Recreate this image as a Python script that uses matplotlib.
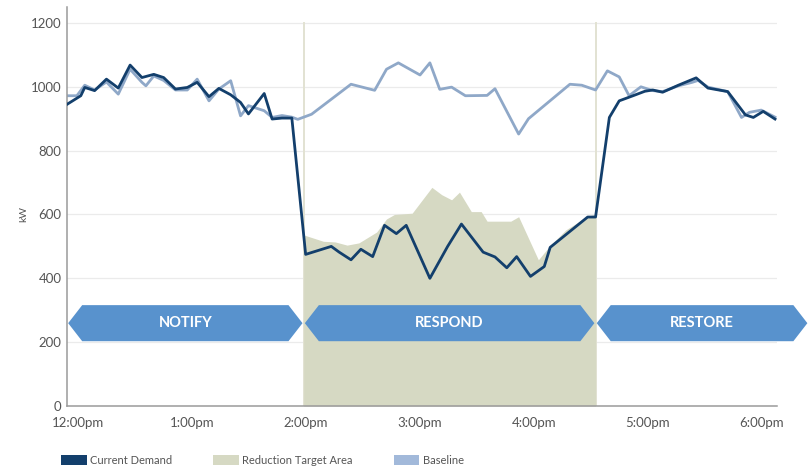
import numpy as np
import matplotlib
matplotlib.use("Agg")
import matplotlib.pyplot as plt
from matplotlib.patches import Polygon, Patch

plt.rcParams['font.family'] = ['Lato', 'DejaVu Sans']

# demand response event, minutes after 12:00pm vs kW
demand_t = [0, 7, 9, 14, 20, 26, 32, 38, 44, 49, 55, 61, 66, 72, 77, 83, 88, 92, 100, 104,
            109, 114, 121, 134, 138, 144, 149, 155, 161, 167, 172, 184, 193, 200, 211, 217,
            223, 228, 235, 242, 245, 264, 268, 275, 280, 287, 293, 297, 302, 310, 319, 325,
            335, 344, 348, 353, 359]
demand_kw = [945, 972, 998, 988, 1024, 996, 1068, 1029, 1039, 1029, 993, 998, 1014, 969, 995,
             975, 951, 915, 979, 899, 902, 902, 475, 500, 482, 458, 491, 468, 566, 540, 566,
             400, 500, 570, 482, 467, 433, 468, 406, 437, 497, 592, 592, 904, 956, 972, 986,
             990, 983, 1005, 1028, 996, 985, 912, 904, 923, 899]

base_t = [0, 5, 9, 14, 20, 26, 32, 38, 40, 44, 49, 55, 61, 66, 72, 77, 83, 88, 92, 100,
          104, 109, 114, 117, 124, 144, 156, 162, 168, 179, 184, 189, 195, 202, 213, 217,
          229, 234, 255, 261, 268, 274, 280, 285, 291, 297, 302, 310, 317, 320, 325, 335,
          342, 346, 352, 359]
base_kw = [972, 972, 1005, 990, 1015, 977, 1055, 1014, 1003, 1034, 1020, 990, 990, 1024, 956,
           993, 1019, 909, 941, 925, 904, 910, 905, 898, 914, 1008, 989, 1055, 1075, 1037,
           1075, 992, 999, 972, 973, 994, 852, 900, 1008, 1005, 990, 1050, 1031, 972, 1000,
           988, 985, 1003, 1014, 1020, 999, 985, 904, 920, 927, 905]

target_t = [120, 130, 136, 142, 148, 157, 162, 166, 175, 185, 190, 195, 199, 205, 210, 213,
            225, 229, 239, 245, 253, 264, 268]
target_kw = [536, 516, 514, 504, 511, 545, 586, 600, 604, 685, 662, 646, 670, 609, 609, 579,
             579, 593, 458, 503, 552, 595, 600]

phases = ['NOTIFY', 'RESPOND', 'RESTORE']
phase_edges = [0, 120, 268, 376]

hour_labels = ['12:00pm', '1:00pm', '2:00pm', '3:00pm', '4:00pm', '5:00pm', '6:00pm']
y_ticks = [0, 200, 400, 600, 800, 1000, 1200]

c_demand = '#133f6c'
c_base = '#8fa8c8'
c_target = '#d6d9c3'
c_arrow = '#5892cd'
c_text = '#555555'

fig = plt.figure(figsize=(8.11, 4.68), dpi=100)
ax = fig.add_axes([67 / 811, 62 / 468, 710 / 811, 399 / 468])

ax.set_xlim(0, 360)
ax.set_ylim(0, 1250)

# gridlines and event boundaries
for y in y_ticks[1:]:
    ax.axhline(y, color='#ebebeb', lw=0.9, zorder=0)
for x in (phase_edges[1], phase_edges[2]):
    ax.plot([x, x], [0, 1200], color='#e2e2d2', lw=1.4, zorder=0.5)

ax.fill_between(target_t, 0, target_kw, color=c_target, lw=0, zorder=1)
ax.plot(base_t, base_kw, color=c_base, lw=2.0, zorder=2)
ax.plot(demand_t, demand_kw, color=c_demand, lw=2.0, zorder=3)

# phase arrows
y_lo, y_hi = 203, 316
y_mid = (y_lo + y_hi) / 2
tip = 7.1
for name, x0, x1 in zip(phases, phase_edges[:-1], phase_edges[1:]):
    a, b = x0 + 0.6, x1 - 0.6
    pts = [(a, y_mid), (a + tip, y_hi), (b - tip, y_hi), (b, y_mid),
           (b - tip, y_lo), (a + tip, y_lo)]
    ax.add_patch(Polygon(pts, closed=True, fc=c_arrow, ec='none', zorder=4, clip_on=False))
    ax.text((a + b) / 2, y_mid, name, color='white', fontsize=10.5, fontweight='bold',
            ha='center', va='center', zorder=5, clip_on=False)

for side in ('top', 'right'):
    ax.spines[side].set_visible(False)
for side in ('left', 'bottom'):
    ax.spines[side].set_color('#9a9a9a')
    ax.spines[side].set_linewidth(1.1)

ax.set_yticks(y_ticks)
ax.set_yticklabels([str(v) for v in y_ticks])
tick_pos = 5.6 + 57.8 * np.arange(len(hour_labels))
ax.set_xticks(tick_pos)
ax.set_xticklabels(hour_labels)
ax.tick_params(axis='both', length=0, colors=c_text, labelsize=9.5)
ax.tick_params(axis='y', pad=4)
ax.tick_params(axis='x', pad=8)

ax.set_ylabel('kW', fontsize=7.5, color=c_text)
ax.yaxis.set_label_coords(-0.055, 0.48)

handles = [Patch(fc=c_demand, ec='none', label='Current Demand'),
           Patch(fc=c_target, ec='none', label='Reduction Target Area'),
           Patch(fc='#a2b9da', ec='none', label='Baseline')]
fig.legend(handles=handles, loc='lower left', bbox_to_anchor=(51 / 811, -0.017),
           ncol=3, frameon=False, fontsize=8, labelcolor=c_text,
           handlelength=2.3, handleheight=1.0, handletextpad=0.3, columnspacing=3.7)

fig.savefig('out.png', dpi=100, facecolor='white')
